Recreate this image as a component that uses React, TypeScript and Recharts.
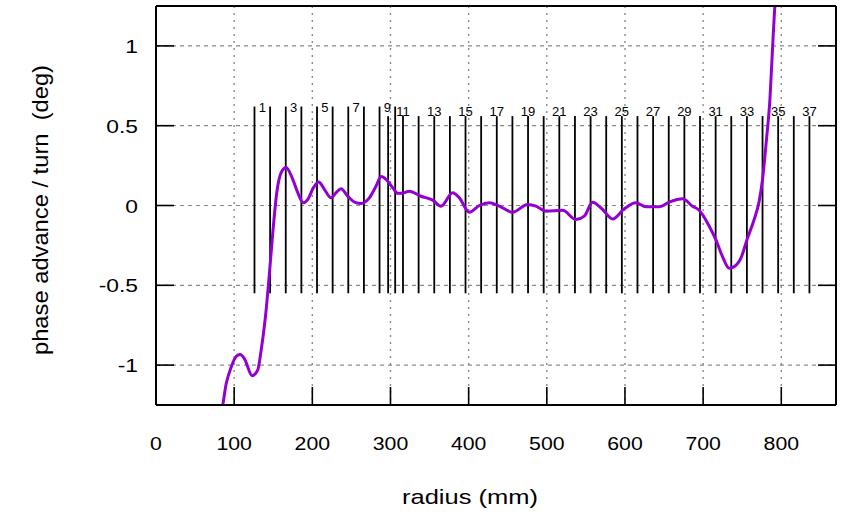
import React from 'react';
import { ComposedChart, Line, XAxis, YAxis, CartesianGrid, ReferenceLine, Scatter, Label } from 'recharts';

const FONT = '"Liberation Sans", Arial, Helvetica, sans-serif';

// curve: radius (mm) vs phase advance per turn (deg)
const radius = [82, 84.7, 89.7, 96.1, 102.5, 107.6, 113.2, 123.0, 130.2, 134.5, 140.0, 145.1, 149.4, 154.5, 160.1, 166.4, 175.0, 181.4, 188.6, 194.2, 201.4, 208.2, 215.4, 224.0, 230.4, 236.8, 245.2, 256.0, 262.4, 273.0, 281.6, 288.0, 294.3, 302.8, 309.2, 317.8, 324.1, 339.0, 354.0, 364.6, 379.6, 388.1, 400.8, 413.7, 426.5, 439.2, 456.3, 475.5, 486.1, 498.9, 520.2, 537.3, 548.0, 558.5, 571.4, 584.2, 599.1, 614.0, 626.8, 643.8, 656.7, 673.7, 686.4, 695.0, 707.8, 716.4, 724.8, 733.4, 739.8, 748.3, 756.8, 765.3, 771.7, 776.0, 781.1, 785.5, 788.8, 791.8, 794.0];
const phase = [-1.32, -1.27, -1.119, -1.014, -0.946, -0.934, -0.961, -1.066, -1.03, -0.909, -0.698, -0.425, -0.172, 0.08, 0.206, 0.238, 0.164, 0.08, 0.017, 0.038, 0.112, 0.147, 0.101, 0.048, 0.08, 0.105, 0.059, 0.017, 0.013, 0.048, 0.122, 0.181, 0.164, 0.112, 0.076, 0.08, 0.09, 0.058, 0.034, -0.004, 0.08, 0.048, -0.042, 0.0, 0.017, -0.004, -0.042, 0.006, -0.004, -0.036, -0.03, -0.088, -0.067, 0.021, -0.025, -0.084, -0.021, 0.017, -0.008, -0.008, 0.021, 0.042, -0.004, -0.03, -0.13, -0.215, -0.32, -0.393, -0.383, -0.33, -0.204, -0.088, 0.027, 0.164, 0.416, 0.669, 0.984, 1.257, 1.4];

// turn marker lines (mm)
const turnLinesA = [126, 146, 166, 186, 206, 226, 246, 266, 286, 306];
const turnLinesB = [297, 316, 336, 356, 376, 396, 416, 436, 456, 476, 496, 516, 536, 556, 576, 596, 616, 636, 656, 676, 696, 716, 736, 756, 776, 796, 816, 836];
const lineBottom = -0.55;
const lineTopA = 0.62;
const lineTopB = 0.56;

const labelsA = ['1', '3', '5', '7', '9'];
const labelsAX = [136, 176, 216, 256, 296];
const labelAY = 0.583;
const labelsB = ['11', '13', '15', '17', '19', '21', '23', '25', '27', '29', '31', '33', '35', '37'];
const labelsBX = [316, 356, 396, 436, 476, 516, 556, 596, 636, 676, 716, 756, 796, 836];
const labelBY = 0.562;

const xTicks = [0, 100, 200, 300, 400, 500, 600, 700, 800];
const yTicks = [-1, -0.5, 0, 0.5, 1];

const curveData = radius.map((r, i) => ({ r, p: phase[i] }));
const labelData = [
  ...labelsA.map((t, i) => ({ r: labelsAX[i], p: labelAY, t })),
  ...labelsB.map((t, i) => ({ r: labelsBX[i], p: labelBY, t })),
];

const TICK_LEN = 18;

const XTickBottom = (props: any) => {
  const { x, y, payload } = props;
  return (
    <g>
      <line x1={x} y1={y} x2={x} y2={y - TICK_LEN} stroke="#000" strokeWidth={1.6} />
      <g transform={`translate(${x},${y + 45}) scale(1.12,1)`}>
        <text x={0} y={0} textAnchor="middle" fontSize={19} fill="#000" fontFamily={FONT}>{payload.value}</text>
      </g>
    </g>
  );
};
const XTickTop = (props: any) => {
  const { x, y } = props;
  return <line x1={x} y1={y} x2={x} y2={y + TICK_LEN} stroke="#000" strokeWidth={1.6} />;
};
const YTickLeft = (props: any) => {
  const { x, y, payload } = props;
  return (
    <g>
      <line x1={x} y1={y} x2={x + TICK_LEN} y2={y} stroke="#000" strokeWidth={1.6} />
      <g transform={`translate(${x - 18},${y + 7}) scale(1.2,1)`}>
        <text x={0} y={0} textAnchor="end" fontSize={19} fill="#000" fontFamily={FONT}>{payload.value}</text>
      </g>
    </g>
  );
};
const YTickRight = (props: any) => {
  const { x, y } = props;
  return <line x1={x} y1={y} x2={x - TICK_LEN} y2={y} stroke="#000" strokeWidth={1.6} />;
};

const LabelShape = (props: any) => {
  const { cx, cy, payload } = props;
  return (
    <text x={cx} y={cy} textAnchor="middle" fontSize={13} fill="#000" fontFamily={FONT}>{payload.t}</text>
  );
};

export default function App() {
  return (
    <div style={{ position: 'absolute', left: 0, top: 0, width: 851, height: 515, background: '#fff' }}>
      <ComposedChart width={851} height={515} margin={{ top: 0, right: 0, bottom: 0, left: 0 }} data={curveData}>
        <CartesianGrid horizontal={true} vertical={false} stroke="#8a8a8a" strokeDasharray="4 4" strokeWidth={1.2} />
        <CartesianGrid horizontal={false} vertical={true} stroke="#8a8a8a" strokeDasharray="2 5" strokeWidth={1.4} />
        <XAxis
          dataKey="r"
          type="number"
          domain={[0, 870]}
          allowDataOverflow
          ticks={xTicks}
          interval={0}
          height={110}
          tickSize={0}
          tickMargin={0}
          tickLine={false}
          axisLine={{ stroke: '#000', strokeWidth: 2 }}
          tick={<XTickBottom />}
        >
          <Label content={() => (
            <text x={470} y={504} textAnchor="middle" fontSize={21} textLength={136} lengthAdjust="spacingAndGlyphs" fill="#000" fontFamily={FONT}>radius (mm)</text>
          )} />
        </XAxis>
        <XAxis
          xAxisId="top"
          orientation="top"
          type="number"
          domain={[0, 870]}
          allowDataOverflow
          ticks={xTicks}
          interval={0}
          height={6}
          tickSize={0}
          tickMargin={0}
          tickLine={false}
          axisLine={{ stroke: '#000', strokeWidth: 2 }}
          tick={<XTickTop />}
        />
        <YAxis
          type="number"
          domain={[-1.25, 1.25]}
          allowDataOverflow
          ticks={yTicks}
          interval={0}
          width={156}
          tickSize={0}
          tickMargin={0}
          tickLine={false}
          axisLine={{ stroke: '#000', strokeWidth: 2 }}
          tick={<YTickLeft />}
        >
          <Label content={() => (
            <text x={40} y={210} transform="rotate(-90 40 210)" textAnchor="middle" dominantBaseline="central" fontSize={22} textLength={290} lengthAdjust="spacingAndGlyphs" style={{ whiteSpace: 'pre' }} fill="#000" fontFamily={FONT}>phase advance / turn  (deg)</text>
          )} />
        </YAxis>
        <YAxis
          yAxisId="right"
          orientation="right"
          type="number"
          domain={[-1.25, 1.25]}
          allowDataOverflow
          ticks={yTicks}
          interval={0}
          width={15}
          tickSize={0}
          tickMargin={0}
          tickLine={false}
          axisLine={{ stroke: '#000', strokeWidth: 2 }}
          tick={<YTickRight />}
        />
        {turnLinesA.map((v) => (
          <ReferenceLine key={'a' + v} segment={[{ x: v, y: lineBottom }, { x: v, y: lineTopA }]} stroke="#000" strokeWidth={1.8} />
        ))}
        {turnLinesB.map((v) => (
          <ReferenceLine key={'b' + v} segment={[{ x: v, y: lineBottom }, { x: v, y: lineTopB }]} stroke="#000" strokeWidth={1.8} />
        ))}
        <Scatter data={labelData} dataKey="p" shape={<LabelShape />} isAnimationActive={false} />
        <Line type="monotone" dataKey="p" stroke="#9400D3" strokeWidth={3} dot={false} isAnimationActive={false} />
      </ComposedChart>
    </div>
  );
}
